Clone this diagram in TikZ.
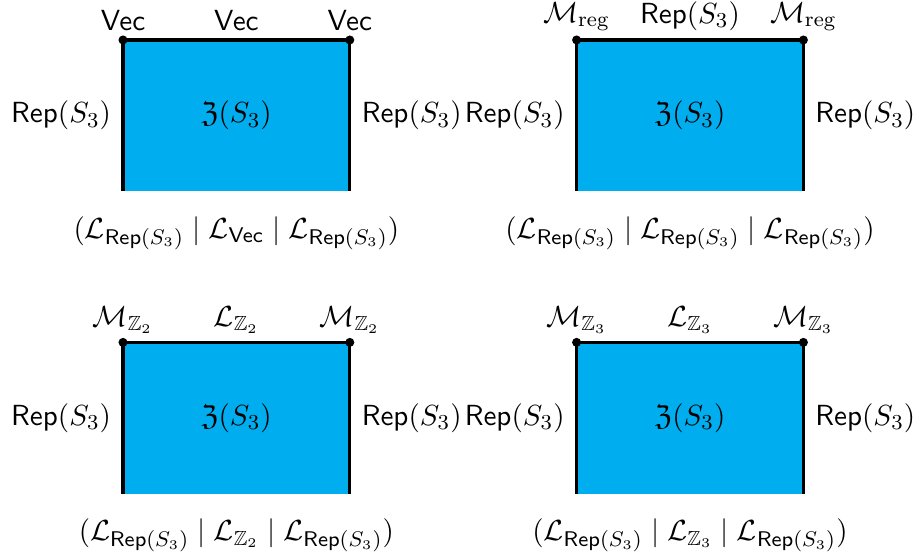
\documentclass[tikz,border=0pt]{standalone}
\usepackage{amsmath}
\usepackage{amssymb}
\usetikzlibrary{positioning}
\definecolor{bulkBlue}{RGB}{0,173,239}

\newcommand{\RepS}{\mathsf{Rep}(S_3)}
\newcommand{\LRep}{\mathcal{L}_{\mathsf{Rep}(S_3)}}

\begin{document}
\begin{tikzpicture}[
    lbl/.style={font=\fontsize{11}{13}\selectfont,inner sep=1pt},
    bulk/.style={fill=bulkBlue},
    bdry/.style={line width=1.2pt,black},
    junc/.style={circle,fill=black,inner sep=0pt,minimum size=3.4pt}]
  \useasboundingbox (-1.627,-4.865) rectangle (10.516,2.529);
  % Quatro placas: deslocamento, canto, topo, fronteira
  \foreach \dx/\dy/\corn/\topl/\btm [count=\n] in {
      0/0/{\mathsf{Vec}}/{\mathsf{Vec}}/{\mathcal{L}_{\mathsf{Vec}}},
      6/0/{\mathcal{M}_{\mathrm{reg}}}/{\RepS}/{\LRep},
      0/-4/{\mathcal{M}_{\mathbb{Z}_2}}/{\mathcal{L}_{\mathbb{Z}_2}}/{\mathcal{L}_{\mathbb{Z}_2}},
      6/-4/{\mathcal{M}_{\mathbb{Z}_3}}/{\mathcal{L}_{\mathbb{Z}_3}}/{\mathcal{L}_{\mathbb{Z}_3}}}{
    \begin{scope}[shift={(\dx,\dy)}]
      \coordinate (bl\n) at (0,0);
      \coordinate (tl\n) at (0,2);
      \coordinate (tr\n) at (3,2);
      \coordinate (br\n) at (3,0);
      \coordinate (tm\n) at (1.5,2);
      \coordinate (bm\n) at (1.5,0);
      \coordinate (lm\n) at (0,1);
      \coordinate (rm\n) at (3,1);
      % bulk e fronteiras
      \fill[bulk] (bl\n) rectangle (tr\n);
      \draw[bdry] (bl\n) -- (tl\n) -- (tr\n) -- (br\n);
      \node[junc] (jl\n) at (tl\n) {};
      \node[junc] (jr\n) at (tr\n) {};
      \node[lbl] (bulk\n) at (1.5,1) {$\mathfrak{Z}(S_3)$};
      % rotulos
      \node[lbl,left=3.3pt of lm\n] (sl\n) {$\RepS$};
      \node[lbl,right=3.3pt of rm\n] (sr\n) {$\RepS$};
      \node[lbl,above=2.3pt of tl\n] (cl\n) {$\corn$};
      \node[lbl,above=2.3pt of tm\n] (cm\n) {$\topl$};
      \node[lbl,above=2.3pt of tr\n] (cr\n) {$\corn$};
      \node[lbl,below=8.3pt of bm\n] (sw\n) {$(\LRep \mid \btm \mid \LRep)$};
    \end{scope}
  }
\end{tikzpicture}
\end{document}
